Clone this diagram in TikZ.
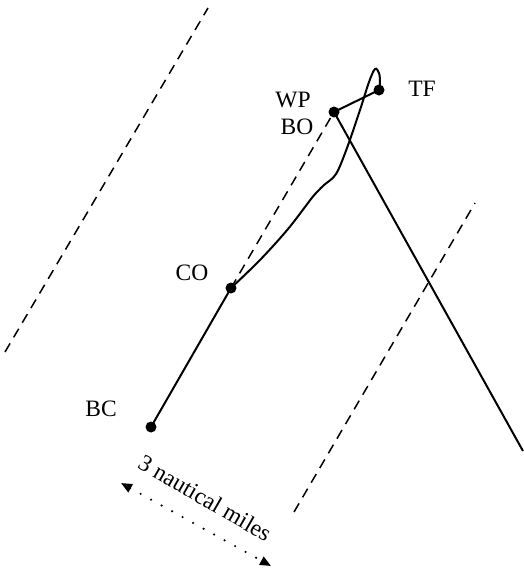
\documentclass[tikz,border=0pt]{standalone}
\usepackage{fontspec}
\setmainfont{Liberation Serif}
\usetikzlibrary{arrows.meta}
\begin{document}
\begin{tikzpicture}[x=1pt,y=-1pt,
  pt/.style={circle,fill=black,inner sep=0pt,minimum size=11pt},
  lbl/.style={font=\fontsize{23.5}{26}\selectfont,inner sep=0pt},
  track/.style={line width=2pt},
  bound/.style={line width=1.5pt,dash pattern=on 10pt off 7pt},
  dist/.style={line width=2.4pt,dash pattern=on 0pt off 12pt,line cap=round,{Triangle[length=11pt,width=9pt]}-{Triangle[length=11pt,width=9pt]}}]
\useasboundingbox (0,0) rectangle (523,571);
% outer boundary lines
\coordinate (L1) at (5,352); \coordinate (L2) at (208,8);
\coordinate (R1) at (294,512); \coordinate (R2) at (475,203);
\draw[bound] (L1) -- (L2);
\draw[bound] (R1) -- (R2);
% points
\node[pt] (BC) at (151,427) {};
\node[pt] (CO) at (231,288) {};
\node[pt] (BO) at (334,112) {};
\node[pt] (TF) at (379,90) {};
\coordinate (E) at (523,451);
% labels
\node[lbl] (tWP) at (293,100) {WP};
\node[lbl] (tBO) at (297,127) {BO};
\node[lbl] (tTF) at (422,89) {TF};
\node[lbl] (tCO) at (192,273) {CO};
\node[lbl] (tBC) at (101,409) {BC};
% tracks
\draw[track] (BC.center) -- (CO.center);
\draw[bound] (CO.center) -- (BO.center);
\draw[track] (BO.center) -- (TF.center);
\draw[track] (BO.center) -- (E);
\draw[track] plot[smooth,tension=0.55] coordinates {(231,288) (260,260) (288,229) (311,199) (318,191) (324,185) (336,174) (347,148) (360,110) (369,82) (375,69) (379,73) (380,82) (379,90)};
% distance
\coordinate (D1) at (121,483); \coordinate (D2) at (271,566);
\draw[dist] (D1) -- (D2);
\node[lbl,rotate=-30] (dl) at (205,498) {3 nautical miles};
\end{tikzpicture}
\end{document}
